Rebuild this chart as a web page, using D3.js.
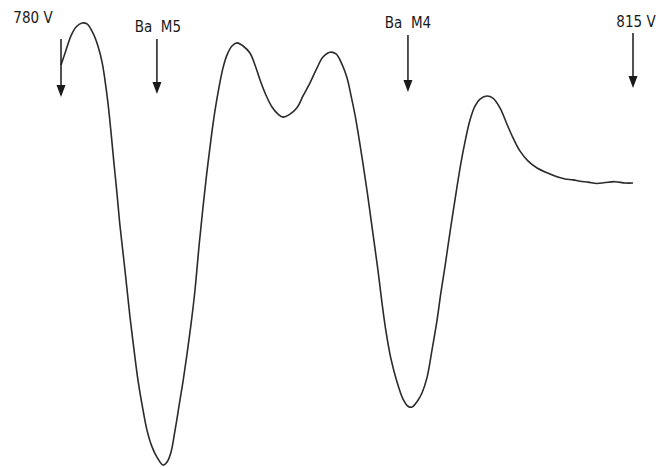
<!DOCTYPE html>
<html>
<head>
<meta charset="utf-8">
<script src="https://cdn.jsdelivr.net/npm/d3@7"></script>
<style>
  html, body { margin: 0; padding: 0; background: #fff; }
  svg text { font-family: "DejaVu Sans Condensed", "DejaVu Sans", sans-serif; font-stretch: condensed; font-size: 15px; fill: #1a1a1a; white-space: pre; }
</style>
</head>
<body>
<div id="chart"></div>
<script>
// Energy (eV) of each sampled point of the spectrum
const energy = [780.00,780.31,780.61,780.92,781.28,781.59,781.96,782.26,782.51,782.69,782.88,783.06,783.24,783.43,783.61,783.92,784.22,784.47,784.71,785.02,785.26,785.57,785.87,786.24,786.49,786.73,786.98,787.22,787.47,787.71,787.95,788.20,788.44,788.69,788.93,789.18,789.42,789.67,789.91,790.16,790.46,790.77,791.14,791.56,791.87,792.18,792.54,792.91,793.28,793.58,793.95,794.44,794.81,795.23,795.66,796.03,796.46,796.83,797.19,797.50,797.74,797.99,798.23,798.48,798.79,799.09,799.40,799.64,799.89,800.19,800.56,800.93,801.23,801.48,801.78,802.09,802.39,802.70,803.01,803.25,803.50,803.74,803.99,804.23,804.47,804.72,805.03,805.33,805.64,806.07,806.43,806.86,807.29,807.66,808.09,808.57,809.13,809.74,810.35,810.84,811.33,811.76,812.25,812.80,813.29,813.90,814.51,815.00];
// Intensity (arbitrary units)
const intensity = [90.5,93.9,97.1,99.1,100.0,99.8,97.7,94.8,91.2,87.1,81.7,75.3,68.3,61.3,54.1,43.9,33.5,26.0,19.2,12.4,7.9,4.1,1.8,0.0,0.7,2.9,7.9,13.3,19.0,25.1,31.7,39.6,49.3,58.4,66.3,73.8,80.1,85.5,89.8,92.8,94.8,95.5,94.8,93.2,90.5,87.1,83.7,81.0,79.4,78.7,79.2,80.8,83.5,86.4,89.8,92.3,93.4,93.0,90.7,87.6,83.7,79.2,74.0,68.1,60.4,52.3,43.9,36.7,30.1,24.0,18.8,14.9,13.3,13.1,14.3,16.3,19.7,26.0,32.8,39.1,45.0,51.1,57.2,62.9,68.3,73.1,78.1,81.2,82.8,83.5,83.0,80.8,77.1,74.0,71.0,68.8,67.2,66.1,65.2,64.7,64.5,64.2,64.0,63.7,63.9,64.1,63.8,63.8];

// Annotation arrows
const markerLabels = ["780 V", "Ba  M5", "Ba  M4", "815 V"];
const markerEnergy = [780.0, 785.87, 801.23, 815.0];

const W = 666, H = 467;
const svg = d3.select("#chart").append("svg").attr("width", W).attr("height", H);

const x = d3.scaleLinear().domain([780, 815]).range([61, 633]);
const y = d3.scaleLinear().domain([0, 100]).range([465, 23]);

const data = energy.map((e, i) => ({ e, v: intensity[i] }));

svg.append("path")
  .datum(data)
  .attr("fill", "none")
  .attr("stroke", "#2b2b2b")
  .attr("stroke-width", 1.6)
  .attr("stroke-linejoin", "round")
  .attr("d", d3.line().x(d => x(d.e)).y(d => y(d.v)).curve(d3.curveCatmullRom.alpha(0.5)));

// arrow layout: [shaft top, tip, label baseline, label dx]
const arrowLayout = [[39, 97, 23, -28], [39, 94, 32, 1], [35, 92, 28, 0], [33, 88, 27, 3]];

markerEnergy.forEach((e, i) => {
  const [top, tip, base, dx] = arrowLayout[i];
  const cx = x(e);
  const g = svg.append("g");
  g.append("line")
    .attr("x1", cx).attr("x2", cx)
    .attr("y1", top).attr("y2", tip - 8)
    .attr("stroke", "#1a1a1a").attr("stroke-width", 1.5);
  g.append("path")
    .attr("d", `M${cx - 4.5},${tip - 12} L${cx + 4.5},${tip - 12} L${cx},${tip} Z`)
    .attr("fill", "#1a1a1a");
  g.append("text")
    .attr("x", cx + dx).attr("y", base)
    .attr("text-anchor", "middle")
    .text(markerLabels[i]);
});
</script>
</body>
</html>
